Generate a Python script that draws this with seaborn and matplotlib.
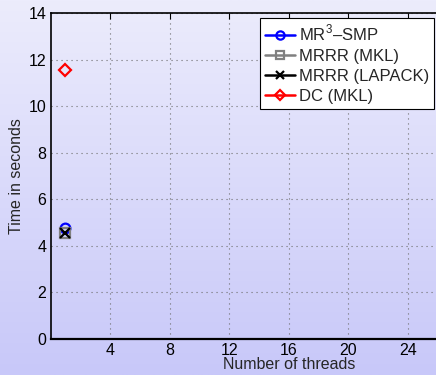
import numpy as np
import pandas as pd
import matplotlib
matplotlib.use("Agg")
import matplotlib.pyplot as plt
import seaborn as sns

threads = [1]
mr3_smp = [4.75]
mrrr_mkl = [4.55]
mrrr_lapack = [4.55]
dc_mkl = [11.55]
xticks = [4, 8, 12, 16, 20, 24]
yticks = [0, 2, 4, 6, 8, 10, 12, 14]

series = [
    ("MR$^3$\u2013SMP", mr3_smp, "#0000ff", "o"),
    ("MRRR (MKL)", mrrr_mkl, "#808080", "s"),
    ("MRRR (LAPACK)", mrrr_lapack, "#000000", "x"),
    ("DC (MKL)", dc_mkl, "#ff0000", "D"),
]

sns.set_style("white")
plt.rcParams["font.family"] = ["Liberation Sans", "DejaVu Sans"]
plt.rcParams["mathtext.fontset"] = "custom"
plt.rcParams["mathtext.rm"] = "Liberation Sans"

W, H = 436, 375
fig = plt.figure(figsize=(W / 100, H / 100), dpi=100)

# gradient background
bg = fig.add_axes([0, 0, 1, 1], zorder=-10)
grad = np.linspace(0, 1, 256)[:, None]
top = np.array([236, 236, 252]) / 255
bot = np.array([200, 200, 249]) / 255
img = top[None, None, :] * (1 - grad[:, :, None]) + bot[None, None, :] * grad[:, :, None]
bg.imshow(img, aspect="auto", extent=[0, 1, 0, 1])
bg.axis("off")

left = 50.5 / W
bottom = (H - 339) / H
height = (339 - 13) / H
px_per_unit = (408 - 50.5) / 24
xmax = 32
width = px_per_unit * xmax / W
ax = fig.add_axes([left, bottom, width, height])
ax.patch.set_alpha(0)

for name, vals, col, mk in series:
    df = pd.DataFrame({"threads": threads, "time": vals})
    sns.lineplot(data=df, x="threads", y="time", ax=ax, color=col, marker=mk,
                 markersize=7 if mk != "D" else 6, markerfacecolor="none",
                 markeredgecolor=col, markeredgewidth=1.6, linewidth=1.8, label=name)

ax.set_xlim(0, xmax)
ax.set_ylim(0, 14)
ax.set_xticks(xticks)
ax.set_yticks(yticks)
ax.grid(True, linestyle=(0, (1, 3.5)), color="#707070", linewidth=0.8)
for s in ["left", "bottom", "top"]:
    ax.spines[s].set_visible(True)
    ax.spines[s].set_color("black")
    ax.spines[s].set_linewidth(1.2)
ax.spines["bottom"].set_linewidth(1.6)
ax.tick_params(direction="in", length=4, width=0.8, top=True, right=False,
               labelsize=11.5, colors="black", pad=3)
ax.set_xlabel("Number of threads", fontsize=11.5, labelpad=-1)
ax.set_ylabel("Time in seconds", fontsize=11.5, labelpad=3)

leg = ax.legend(loc="upper right", bbox_to_anchor=(434 / W, 1 - 18 / H),
                bbox_transform=fig.transFigure, frameon=True, fancybox=False,
                fontsize=12, handlelength=1.8, handletextpad=0.2,
                borderpad=0.3, labelspacing=0.3, borderaxespad=0,
                markerscale=0.85)
leg.get_frame().set_edgecolor("black")
leg.get_frame().set_linewidth(0.8)
leg.get_frame().set_facecolor("white")
leg.get_frame().set_alpha(1)

fig.savefig("out.png", dpi=100)
